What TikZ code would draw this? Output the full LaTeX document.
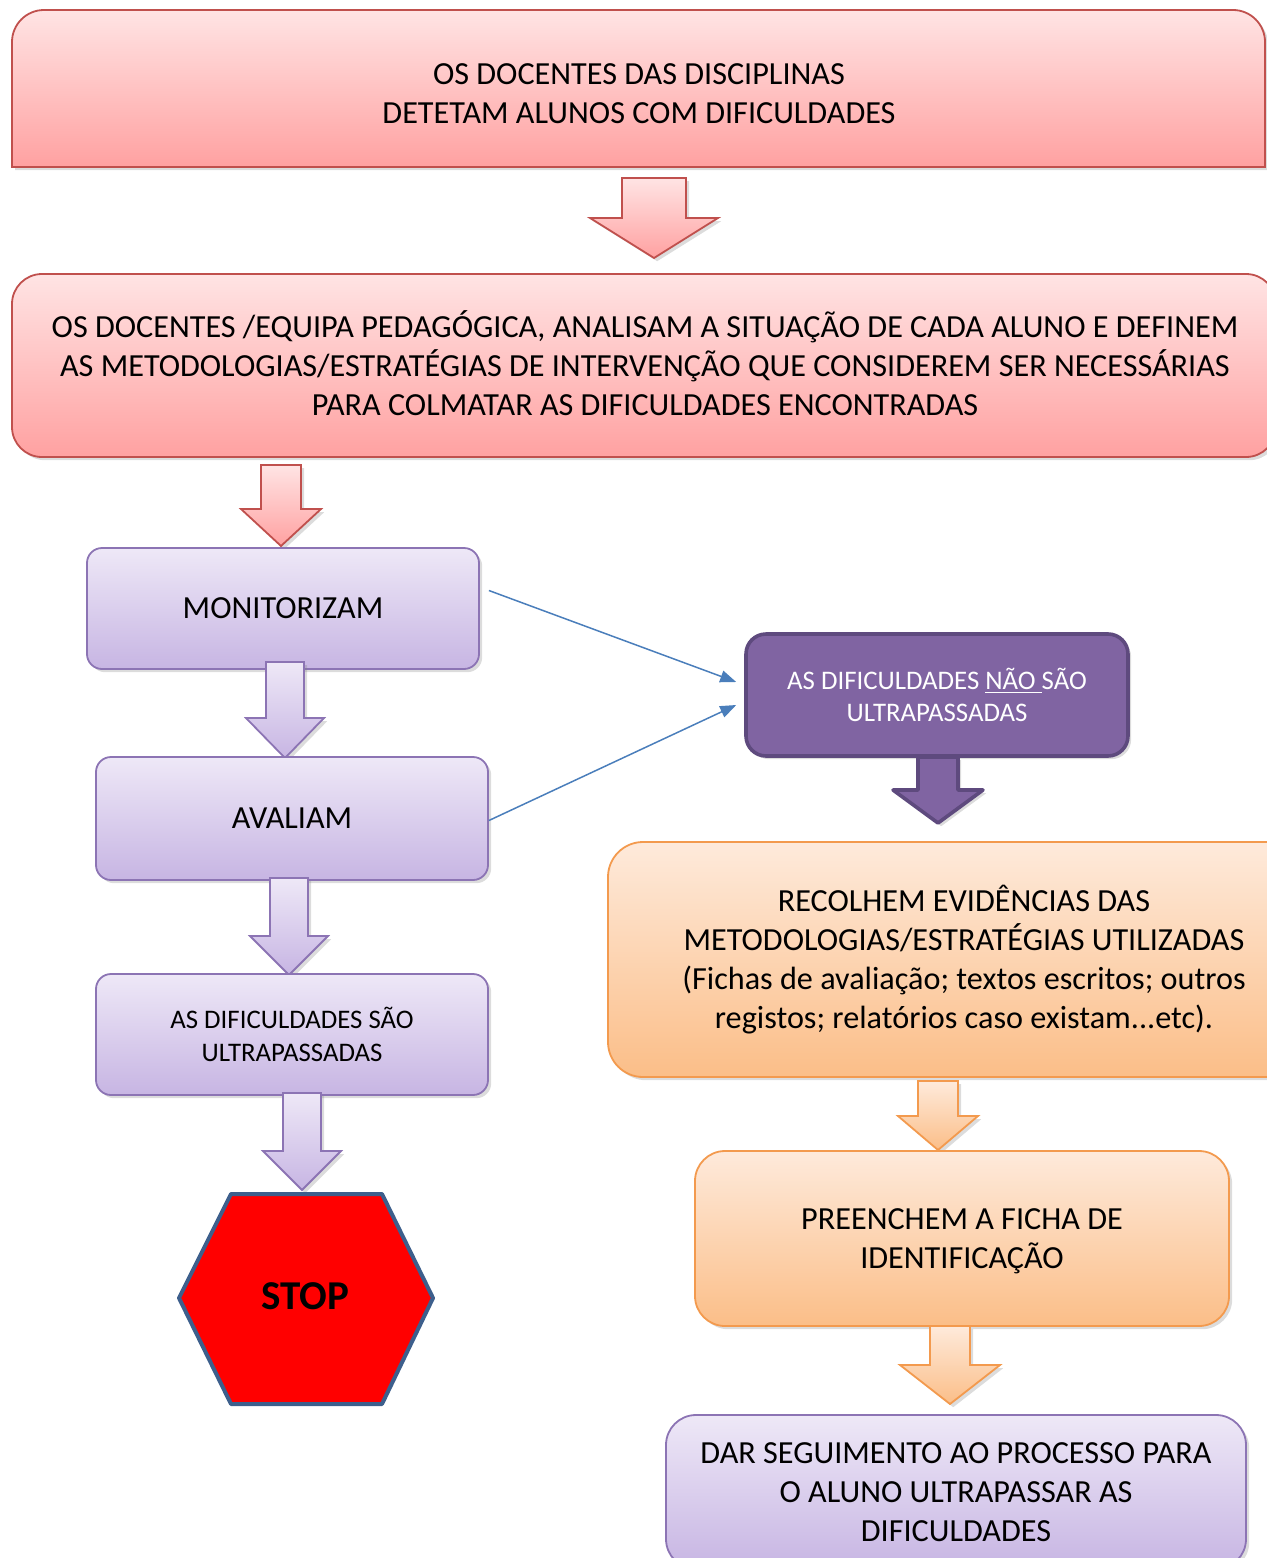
\documentclass[tikz,border=0pt]{standalone}
\usepackage{fontspec}
\setmainfont{Carlito}
\usetikzlibrary{shadows,calc,arrows.meta}
\definecolor{redT}{HTML}{FFE4E4}
\definecolor{redB}{HTML}{FFA1A1}
\definecolor{redD}{HTML}{C0504D}
\definecolor{lavT}{HTML}{EEE8F7}
\definecolor{lavB}{HTML}{C7B5E3}
\definecolor{lavD}{HTML}{8C74B4}
\definecolor{purF}{HTML}{8064A2}
\definecolor{purD}{HTML}{5E4A7E}
\definecolor{orT}{HTML}{FEEADB}
\definecolor{orB}{HTML}{FBBE88}
\definecolor{orD}{HTML}{F39A4E}
\definecolor{blueL}{HTML}{4A7EBB}
\definecolor{stopD}{HTML}{3D5F8C}
\tikzset{
  shad/.style={drop shadow={opacity=0.28,shadow xshift=1.6pt,shadow yshift=-1.6pt}},
  redbox/.style={shad,top color=redT,bottom color=redB,draw=redD,line width=0.9pt},
  lavbox/.style={shad,top color=lavT,bottom color=lavB,draw=lavD,line width=0.9pt,rounded corners=7.5pt,
     font=\fontsize{16.1}{19.5}\selectfont,align=center},
  purbox/.style={shad,fill=purF,draw=purD,line width=1.8pt,rounded corners=10pt,text=white,
     font=\fontsize{13.4}{16}\selectfont,align=center},
  orbox/.style={shad,top color=orT,bottom color=orB,draw=orD,line width=0.9pt,
     font=\fontsize{16.1}{19.5}\selectfont,align=center},
  redarr/.style={shad,top color=redT,bottom color=redB,draw=redD,line width=0.9pt},
  lavarr/.style={shad,top color=lavT,bottom color=lavB,draw=lavD,line width=0.9pt},
  orarr/.style={shad,top color=orT,bottom color=orB,draw=orD,line width=0.9pt},
  purarr/.style={shad,fill=purF,draw=purD,line width=1.8pt,line join=round},
  txt/.style={font=\fontsize{16.1}{19.5}\selectfont,align=center},
  bluecon/.style={draw=blueL,line width=0.75pt,-{Triangle[length=8pt,width=6pt]}}
}
% #1 style, #2 cx, #3 ytop, #4 half shaft, #5 yhead, #6 half head, #7 ytip
\newcommand\blockarr[7]{%
  \path[#1] (#2-#4,#3) -- (#2+#4,#3) -- (#2+#4,#5) -- (#2+#6,#5) -- (#2,#7) -- (#2-#6,#5) -- (#2-#4,#5) -- cycle;}
\begin{document}
\begin{tikzpicture}[x=0.5pt,y=-0.5pt]
\useasboundingbox (0,0) rectangle (1267,1558);
% top box (top corners rounded)
\path[redbox] (12,90) [rounded corners=16pt] -- (12,10) -- (1265,10) -- (1265,90) [sharp corners] -- (1265,167) -- (12,167) -- cycle;
\node[txt] (n1) at (639,94) {OS DOCENTES DAS DISCIPLINAS\\DETETAM ALUNOS COM DIFICULDADES};
\blockarr{redarr}{654}{178}{32}{218}{64}{258}
% second box
\node[redbox,rounded corners=15pt,minimum width=632pt,minimum height=91.5pt,txt] (n2) at (644,365.5) {};
\node[txt] (n2t) at (645,363.5)
 {OS DOCENTES /EQUIPA PEDAGÓGICA, ANALISAM A SITUAÇÃO DE CADA ALUNO E DEFINEM\\
  AS METODOLOGIAS/ESTRATÉGIAS DE INTERVENÇÃO QUE CONSIDEREM SER NECESSÁRIAS\\
  PARA COLMATAR AS DIFICULDADES ENCONTRADAS};
\blockarr{redarr}{281}{465}{20}{509}{40}{546}
% left column
\node[lavbox,minimum width=196pt,minimum height=60.5pt] (mon) at (283,608.5) {MONITORIZAM};
\blockarr{lavarr}{285}{662}{19}{718}{39}{758}
\node[lavbox,minimum width=196pt,minimum height=61.5pt] (ava) at (292,818.5) {AVALIAM};
\blockarr{lavarr}{289}{878}{19}{936}{39}{975}
\node[lavbox,minimum width=196pt,minimum height=60.5pt,font=\fontsize{13.4}{16.5}\selectfont] (sao) at (292,1034.5)
 {AS DIFICULDADES SÃO\\ULTRAPASSADAS};
\blockarr{lavarr}{302}{1093}{19}{1151}{39}{1190}
% STOP hexagon
\path[fill=red,draw=stopD,line width=2pt,line join=round] (179,1298) -- (231,1194) -- (382,1194) -- (433,1298) -- (382,1404) -- (231,1404) -- cycle;
\node[font=\fontsize{20.5}{24}\selectfont\bfseries] (stop) at (305,1296) {STOP};
% right column
\node[purbox,minimum width=191pt,minimum height=61pt] (nao) at (937,695)
 {AS DIFICULDADES \underline{NÃO\ }SÃO\\ULTRAPASSADAS};
\blockarr{purarr}{938}{757}{20}{790}{45}{823}
\node[orbox,rounded corners=17.5pt,minimum width=356pt,minimum height=117.5pt] (rec) at (964,959.5)
 {RECOLHEM EVIDÊNCIAS DAS\\METODOLOGIAS/ESTRATÉGIAS UTILIZADAS\\(Fichas de avaliação; textos escritos; outros\\registos; relatórios caso existam...etc).};
\blockarr{orarr}{938}{1081}{20}{1116}{40}{1150}
\node[orbox,rounded corners=15pt,minimum width=267pt,minimum height=87.5pt] (pre) at (962,1238.5) {};
\node[txt] (pret) at (962,1241.5) {PREENCHEM A FICHA DE\\IDENTIFICAÇÃO};
\blockarr{orarr}{950}{1326}{20}{1365}{50}{1404}
\node[lavbox,rounded corners=15pt,minimum width=290pt,minimum height=77pt] (dar) at (956,1492)
 {DAR SEGUIMENTO AO PROCESSO PARA\\O ALUNO ULTRAPASSAR AS\\DIFICULDADES};
% blue connectors
\draw[bluecon] ($(mon.east)+(9,-18)$) -- ($(nao.west)+(-8,-13)$);
\draw[bluecon] ($(ava.east)+(0,2)$) -- ($(nao.west)+(-8,10)$);
\end{tikzpicture}
\end{document}
